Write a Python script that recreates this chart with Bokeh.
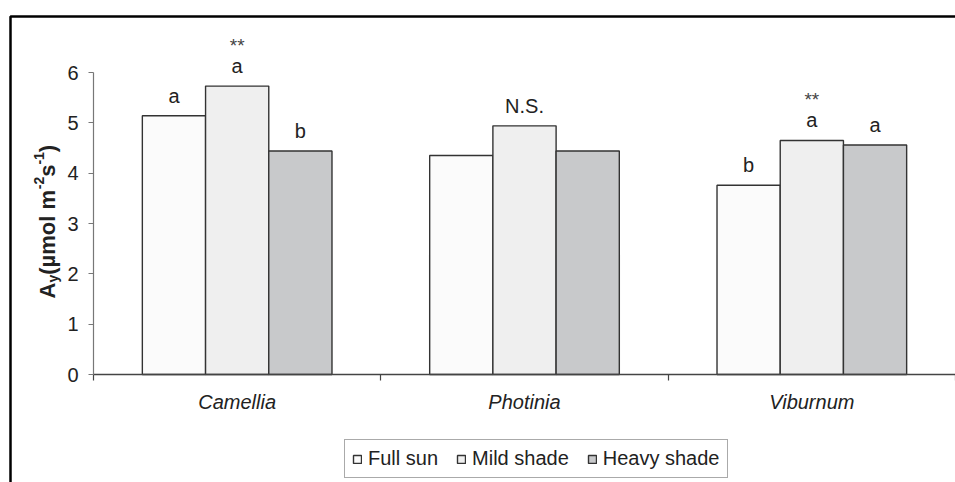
import math
from bokeh.plotting import figure
from bokeh.models import (ColumnDataSource, Range1d, FixedTicker, LabelSet, Label,
                          Legend, LegendItem, BoxAnnotation)
from bokeh.core.properties import value
from bokeh.embed import file_html
from bokeh.resources import INLINE

# ---------------- data ----------------
species = ["Camellia", "Photinia", "Viburnum"]
treatments = ["Full sun", "Mild shade", "Heavy shade"]
full_sun = [5.14, 4.35, 3.76]
mild_shade = [5.73, 4.94, 4.65]
heavy_shade = [4.44, 4.44, 4.56]
letters_full = ["a", "", "b"]
letters_mild = ["a", "N.S.", "a"]
letters_heavy = ["b", "", "a"]
stars_mild = ["**", "", "**"]
y_ticks = [0, 1, 2, 3, 4, 5, 6]

# ---------------- layout ----------------
FONT = "Liberation Sans"
W, H = 955, 482
X0, Y0 = 93, 374                  # pixel position of data origin
PXX = 287.333                      # px per category
PXY = 50.333                       # px per y unit

p = figure(width=W, height=H, output_backend="svg", toolbar_location=None,
           x_range=Range1d(-X0 / PXX, (W - X0) / PXX),
           y_range=Range1d(-(H - Y0) / PXY, Y0 / PXY),
           min_border=0, min_border_left=0, min_border_right=0,
           min_border_top=0, min_border_bottom=0)
p.outline_line_color = None
p.grid.visible = False
p.background_fill_color = "white"
p.border_fill_color = "white"

# y axis
ya = p.yaxis[0]
ya.fixed_location = 0
ya.bounds = (0, 6)
ya.ticker = FixedTicker(ticks=y_ticks, minor_ticks=[])
ya.axis_line_color = "#777777"
ya.axis_line_width = 1.2
ya.major_tick_line_color = "#777777"
ya.major_tick_line_width = 1.2
ya.major_tick_out = 5
ya.major_tick_in = 0
ya.minor_tick_line_color = None
ya.major_label_text_font = FONT
ya.major_label_text_font_size = "20px"
ya.major_label_text_color = "#222222"
ya.major_label_standoff = 10

# x axis (labels at centres, tick marks at boundaries)
xa = p.xaxis[0]
xa.fixed_location = 0
xa.bounds = (0, 3.2)
centres = [i + 0.5 for i in range(len(species))]
xa.ticker = FixedTicker(ticks=centres, minor_ticks=[0, 1, 2, 3])
xa.major_label_overrides = {c: s for c, s in zip(centres, species)}
xa.major_tick_line_color = None
xa.major_tick_out = 0
xa.major_tick_in = 0
xa.minor_tick_line_color = "#444444"
xa.minor_tick_line_width = 1.2
xa.minor_tick_out = 6
xa.minor_tick_in = 0
xa.axis_line_color = "#444444"
xa.axis_line_width = 1.5
xa.major_label_text_font = FONT
xa.major_label_text_font_style = "italic"
xa.major_label_text_font_size = "20px"
xa.major_label_text_color = "#222222"
xa.major_label_standoff = 10

# bars
offsets = [-0.22, 0.0, 0.22]
fills = ["#fbfbfb", "#efefef", "#c8c9cb"]
series = [full_sun, mild_shade, heavy_shade]
letters = [letters_full, letters_mild, letters_heavy]
renderers = []
for off, col, vals, lets in zip(offsets, fills, series, letters):
    src = ColumnDataSource(dict(x=[c + off for c in centres], top=vals, lab=lets))
    r = p.vbar(x="x", top="top", bottom=0, width=0.22, source=src,
               fill_color=col, line_color="#333333", line_width=1.4)
    renderers.append(r)
    p.add_layout(LabelSet(x="x", y="top", text="lab", source=src, y_offset=13,
                          text_align="center", text_baseline="alphabetic",
                          text_font=value(FONT), text_font_size="20px", text_color="#222222"))

star_src = ColumnDataSource(dict(x=[c + offsets[1] for c in centres], top=mild_shade, lab=stars_mild))
p.add_layout(LabelSet(x="x", y="top", text="lab", source=star_src, y_offset=34,
                      text_align="center", text_baseline="alphabetic",
                      text_font=value(FONT), text_font_size="19px", text_color="#444444"))

# legend
legend = Legend(items=[LegendItem(label=t, renderers=[r]) for t, r in zip(treatments, renderers)],
                orientation="horizontal", location=(344, 4),
                glyph_width=10, glyph_height=10, label_standoff=6, spacing=18,
                padding=7, margin=0,
                label_text_font=FONT, label_text_font_size="20px", label_text_color="#222222",
                border_line_color="#555555", border_line_width=1.3,
                background_fill_color="white", background_fill_alpha=1.0)
p.add_layout(legend, "center")

# outer frame box (left and top edges visible)
p.add_layout(BoxAnnotation(left=(10 - X0) / PXX, right=3.6, top=(Y0 - 16) / PXY, bottom=-3,
                           fill_alpha=0, line_color="black", line_alpha=1.0, line_width=2.5))

# y axis title, rotated, built from pieces (sub/superscripts)
pieces = [("A", 22, 0), ("y", 14, 5.5), ("(µmol m", 22, 0), ("-2", 14, -9),
          ("s", 22, 0), ("-1", 14, -9), (")", 22, 0)]
adv = {"A": 722, "y": 556, "(": 333, "µ": 611, "m": 889, "o": 611, "l": 278, " ": 278,
       "-": 333, "2": 556, "1": 556, "s": 556, ")": 333}
base_x_px, start_y_px = 47, 298   # pixel coords of baseline / start
pos = 0.0
for txt, fs, shift in pieces:
    x_data = (base_x_px + shift - X0) / PXX
    y_data = (Y0 - (start_y_px - pos)) / PXY
    p.add_layout(Label(x=x_data, y=y_data, text=txt, angle=math.pi / 2,
                       text_align="left", text_baseline="alphabetic",
                       text_font=FONT, text_font_style="bold", text_font_size=f"{fs}px",
                       text_color="#222222"))
    pos += sum(adv.get(ch, 556) for ch in txt) / 1000.0 * fs

open("out.html", "w").write(file_html(p, INLINE))
